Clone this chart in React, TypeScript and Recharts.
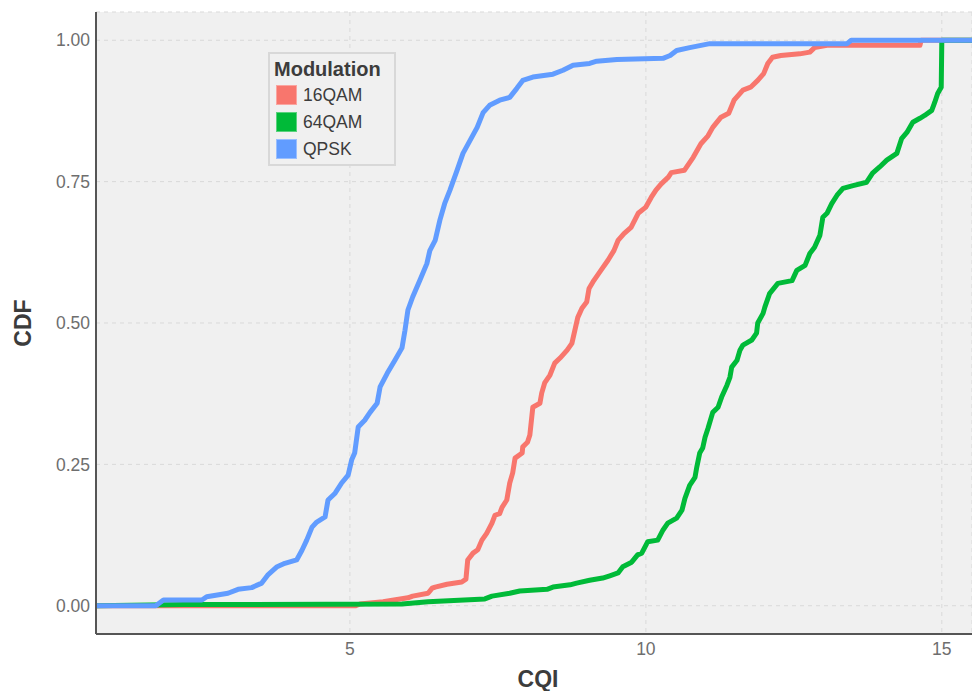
import React from "react";
import { LineChart, Line, XAxis, YAxis, CartesianGrid } from "recharts";

const cqiQPSK = [0.71, 1.72, 1.85, 2.5, 2.58, 2.94, 3.11, 3.34, 3.51, 3.61, 3.77, 3.9, 4.1, 4.19, 4.27, 4.36, 4.44, 4.58, 4.63, 4.75, 4.86, 4.97, 5.03, 5.08, 5.14, 5.25, 5.34, 5.46, 5.51, 5.63, 5.76, 5.88, 5.93, 5.98, 6.06, 6.18, 6.3, 6.35, 6.44, 6.52, 6.6, 6.69, 6.81, 6.91, 7.03, 7.15, 7.25, 7.36, 7.53, 7.7, 7.82, 7.92, 8.09, 8.43, 8.6, 8.77, 9.05, 9.17, 9.51, 10.29, 10.41, 10.52, 10.74, 11.08, 13.4, 13.47, 15.51];
const cdfQPSK = [0, 0, 0.01, 0.01, 0.016, 0.022, 0.029, 0.032, 0.04, 0.054, 0.069, 0.075, 0.081, 0.098, 0.116, 0.139, 0.148, 0.157, 0.187, 0.199, 0.217, 0.231, 0.258, 0.27, 0.316, 0.328, 0.342, 0.358, 0.387, 0.411, 0.434, 0.456, 0.487, 0.523, 0.546, 0.575, 0.605, 0.628, 0.646, 0.682, 0.711, 0.735, 0.77, 0.8, 0.823, 0.846, 0.872, 0.885, 0.894, 0.899, 0.915, 0.929, 0.935, 0.94, 0.947, 0.956, 0.959, 0.963, 0.966, 0.968, 0.973, 0.982, 0.987, 0.994, 0.994, 1.0, 1.0];

const cqi16QAM = [0.71, 5.1, 5.17, 5.56, 5.98, 6.06, 6.32, 6.39, 6.44, 6.64, 6.89, 6.96, 6.99, 7.08, 7.16, 7.23, 7.31, 7.4, 7.45, 7.53, 7.57, 7.65, 7.7, 7.75, 7.79, 7.91, 7.92, 8.0, 8.04, 8.09, 8.21, 8.24, 8.29, 8.38, 8.46, 8.55, 8.67, 8.75, 8.8, 8.85, 8.92, 9.0, 9.04, 9.12, 9.24, 9.36, 9.46, 9.53, 9.63, 9.75, 9.87, 10.0, 10.09, 10.17, 10.26, 10.38, 10.43, 10.65, 10.8, 10.93, 11.05, 11.13, 11.27, 11.4, 11.49, 11.64, 11.77, 11.89, 11.99, 12.06, 12.14, 12.28, 12.6, 12.77, 12.85, 13.06, 14.63, 14.65, 15.51];
const cdf16QAM = [0, 0, 0.003, 0.007, 0.014, 0.017, 0.022, 0.031, 0.033, 0.038, 0.042, 0.047, 0.081, 0.093, 0.099, 0.116, 0.128, 0.146, 0.16, 0.163, 0.174, 0.187, 0.217, 0.235, 0.261, 0.27, 0.281, 0.289, 0.302, 0.351, 0.358, 0.376, 0.394, 0.408, 0.429, 0.438, 0.452, 0.464, 0.487, 0.51, 0.526, 0.537, 0.561, 0.575, 0.593, 0.611, 0.628, 0.646, 0.658, 0.669, 0.694, 0.705, 0.722, 0.735, 0.746, 0.758, 0.766, 0.77, 0.793, 0.817, 0.831, 0.846, 0.864, 0.871, 0.894, 0.912, 0.917, 0.929, 0.941, 0.959, 0.97, 0.973, 0.976, 0.979, 0.987, 0.991, 0.991, 1.0, 1.0];

const cqi64QAM = [0.71, 2.2, 5.88, 6.32, 7.28, 7.4, 7.7, 7.87, 8.33, 8.43, 8.72, 8.83, 9.05, 9.27, 9.39, 9.53, 9.61, 9.76, 9.86, 9.93, 10.03, 10.2, 10.29, 10.37, 10.52, 10.61, 10.66, 10.74, 10.83, 10.86, 10.91, 10.96, 11.0, 11.05, 11.13, 11.22, 11.28, 11.37, 11.42, 11.45, 11.54, 11.59, 11.64, 11.79, 11.87, 11.89, 11.98, 12.01, 12.09, 12.23, 12.47, 12.55, 12.69, 12.77, 12.85, 12.94, 12.99, 13.06, 13.14, 13.23, 13.33, 13.5, 13.73, 13.83, 13.95, 14.07, 14.24, 14.32, 14.41, 14.51, 14.63, 14.71, 14.83, 14.88, 14.93, 14.99, 15.0, 15.51];
const cdf64QAM = [0, 0.002, 0.003, 0.007, 0.012, 0.017, 0.022, 0.026, 0.029, 0.033, 0.037, 0.04, 0.045, 0.049, 0.053, 0.058, 0.069, 0.077, 0.09, 0.093, 0.113, 0.116, 0.134, 0.146, 0.155, 0.169, 0.19, 0.213, 0.227, 0.245, 0.27, 0.279, 0.298, 0.314, 0.342, 0.351, 0.369, 0.39, 0.404, 0.422, 0.434, 0.452, 0.461, 0.47, 0.482, 0.5, 0.517, 0.528, 0.552, 0.57, 0.575, 0.593, 0.602, 0.623, 0.634, 0.655, 0.687, 0.694, 0.711, 0.726, 0.738, 0.743, 0.749, 0.765, 0.776, 0.788, 0.8, 0.826, 0.837, 0.855, 0.862, 0.867, 0.876, 0.89, 0.906, 0.917, 1.0, 1.0];

const seriesNames = ["16QAM", "64QAM", "QPSK"];
const seriesColors = ["#F8766D", "#00BA38", "#619CFF"];
const xTicks = [5, 10, 15];
const yTicks = [0, 0.25, 0.5, 0.75, 1];

const toData = (xs: number[], ys: number[]) => xs.map((x, i) => ({ cqi: x, cdf: ys[i] }));
const seriesData = [toData(cqi16QAM, cdf16QAM), toData(cqi64QAM, cdf64QAM), toData(cqiQPSK, cdfQPSK)];

const FONT = '"Liberation Sans", Arial, Helvetica, sans-serif';

function LegendBox() {
  return (
    <div
      style={{
        position: "absolute",
        left: 268,
        top: 52,
        width: 124,
        height: 110,
        border: "2px solid #d8d8d8",
        background: "#f0f0f0",
        fontFamily: FONT,
        color: "#3c3c3c",
        boxSizing: "content-box",
      }}
    >
      <div style={{ fontWeight: "bold", fontSize: 20, lineHeight: "20px", marginLeft: 4, marginTop: 5 }}>Modulation</div>
      {seriesNames.map((n, i) => (
        <div key={n} style={{ display: "flex", alignItems: "center", marginLeft: 6, marginTop: i === 0 ? 6 : 7, height: 20 }}>
          <div style={{ width: 21, height: 20, background: seriesColors[i], boxSizing: "border-box", border: "1px solid rgba(255,255,255,0.35)" }} />
          <span style={{ fontSize: 17.5, marginLeft: 6, lineHeight: "20px" }}>{n}</span>
        </div>
      ))}
    </div>
  );
}

export default function App() {
  return (
    <div style={{ position: "absolute", left: 0, top: 0, width: 972, height: 691, background: "#fff" }}>
      <LineChart width={972} height={691} margin={{ top: 12, right: 0, bottom: 0, left: 0 }}>
        <CartesianGrid fill="#f0f0f0" stroke="#d9d9d9" strokeDasharray="4 4" strokeWidth={1} />
        <XAxis
          dataKey="cqi"
          type="number"
          domain={[0.71, 15.51]}
          ticks={xTicks}
          allowDataOverflow
          height={57}
          tickLine={false}
          tickSize={6}
          tickMargin={3}
          axisLine={{ stroke: "#555", strokeWidth: 2 }}
          tick={{ fill: "#6e6e6e", fontSize: 17.5, fontFamily: FONT }}
          label={{
            content: () => (
              <text x={538} y={687} textAnchor="middle" fontFamily={FONT} fontWeight="bold" fontSize={23} fill="#3c3c3c">
                CQI
              </text>
            ),
          }}
        />
        <YAxis
          type="number"
          domain={[-0.05, 1.05]}
          ticks={yTicks}
          allowDataOverflow
          width={96}
          tickLine={false}
          tickSize={6}
          tickMargin={0}
          tickFormatter={(v: number) => v.toFixed(2)}
          axisLine={{ stroke: "#555", strokeWidth: 2 }}
          tick={{ fill: "#6e6e6e", fontSize: 17.5, fontFamily: FONT }}
          label={{
            content: () => (
              <text x={31} y={323} transform="rotate(-90 31 323)" textAnchor="middle" fontFamily={FONT} fontWeight="bold" fontSize={23} fill="#3c3c3c">
                CDF
              </text>
            ),
          }}
        />
        {seriesNames.map((n, i) => (
          <Line
            key={n}
            name={n}
            data={seriesData[i]}
            dataKey="cdf"
            type="linear"
            stroke={seriesColors[i]}
            strokeWidth={5}
            strokeLinejoin="round"
            strokeLinecap="butt"
            dot={false}
            activeDot={false}
            isAnimationActive={false}
          />
        ))}
      </LineChart>
      <LegendBox />
    </div>
  );
}
